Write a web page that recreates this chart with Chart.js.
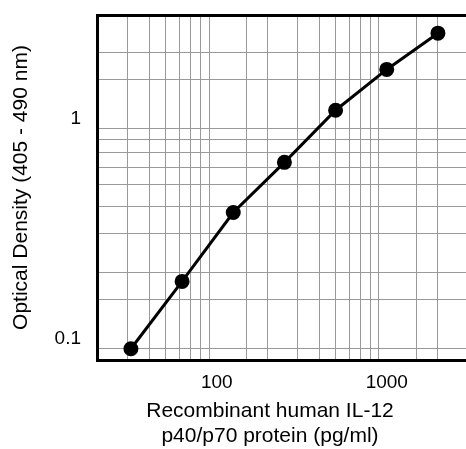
<!DOCTYPE html>
<html>
<head>
<meta charset="utf-8">
<script src="https://cdn.jsdelivr.net/npm/chart.js@4.4.1/dist/chart.umd.min.js"></script>
<style>
  html, body { margin: 0; padding: 0; background: #fff; }
  #wrap { width: 466px; height: 449px; }
</style>
</head>
<body>
<div id="wrap"><canvas id="chart" width="466" height="449"></canvas></div>
<script>
// standard curve, IL-12 p40/p70
const concentrations = [31.25, 62.5, 125, 250, 500, 1000, 2000];
const opticalDensity = [0.090, 0.182, 0.374, 0.632, 1.09, 1.67, 2.44];
const xTickLabels = [100, 1000];
const yTickLabels = [0.1, 1];
const xTitleLines = ["Recombinant human IL-12", "p40/p70 protein (pg/ml)"];
const yTitle = "Optical Density (405 - 490 nm)";

const FONT = "'Liberation Sans', Arial, sans-serif";

function isLabelled(v, list) {
  return list.some(t => Math.abs(Math.log10(v) - Math.log10(t)) < 1e-6);
}

function noEdgePadding(scale) {
  scale.paddingTop = 0;
  scale.paddingBottom = 0;
  scale.paddingLeft = 0;
  scale.paddingRight = 0;
}

// x title is off-centre in the original, so draw it here
const xTitlePlugin = {
  id: "xTitle",
  afterDraw(chart) {
    const ctx = chart.ctx;
    ctx.save();
    ctx.fillStyle = "#000";
    ctx.font = "21px " + FONT;
    ctx.textAlign = "center";
    ctx.textBaseline = "alphabetic";
    ctx.fillText(xTitleLines[0], 270, 417);
    ctx.fillText(xTitleLines[1], 270, 442);
    ctx.restore();
  }
};

new Chart(document.getElementById("chart"), {
  type: "line",
  data: {
    datasets: [{
      data: concentrations.map((c, i) => ({ x: c, y: opticalDensity[i] })),
      borderColor: "#000",
      backgroundColor: "#000",
      borderWidth: 3,
      pointRadius: 6,
      pointHoverRadius: 6,
      tension: 0
    }]
  },
  options: {
    responsive: false,
    animation: false,
    layout: { autoPadding: false, padding: { top: 15, right: 0, left: 0, bottom: 0 } },
    plugins: { legend: { display: false }, tooltip: { enabled: false } },
    scales: {
      x: {
        type: "logarithmic",
        min: 19.74,
        max: 2925,
        afterFit(scale) { scale.height = 89; noEdgePadding(scale); },
        border: { display: true, color: "#000", width: 3 },
        grid: {
          drawTicks: false,
          lineWidth: 1,
          color: c => {
            const v = c.tick.value;
            if (isLabelled(v, xTickLabels) || v >= 2900 || v < 20) return "rgba(0,0,0,0)";
            return "#999";
          }
        },
        ticks: {
          autoSkip: false,
          maxRotation: 0,
          padding: 11,
          color: "#000",
          font: { family: FONT, size: 19 },
          callback: v => isLabelled(v, xTickLabels) ? String(v) : ""
        }
      },
      y: {
        type: "logarithmic",
        min: 0.08,
        max: 2.95,
        afterFit(scale) { scale.width = 97; noEdgePadding(scale); },
        border: { display: true, color: "#000", width: 3 },
        grid: {
          drawTicks: false,
          lineWidth: c => (c.tick.value >= 2.9 ? 3 : 1),
          color: c => {
            const v = c.tick.value;
            if (v >= 2.9) return "#000";
            if (isLabelled(v, yTickLabels) || v < 0.085) return "rgba(0,0,0,0)";
            return "#999";
          }
        },
        ticks: {
          autoSkip: false,
          padding: 16,
          color: "#000",
          font: { family: FONT, size: 19 },
          callback: v => isLabelled(v, yTickLabels) ? String(v) : ""
        },
        title: {
          display: true,
          text: yTitle,
          color: "#000",
          font: { family: FONT, size: 21 },
          padding: { top: 9, bottom: 0 }
        }
      }
    }
  },
  plugins: [xTitlePlugin]
});
</script>
</body>
</html>
